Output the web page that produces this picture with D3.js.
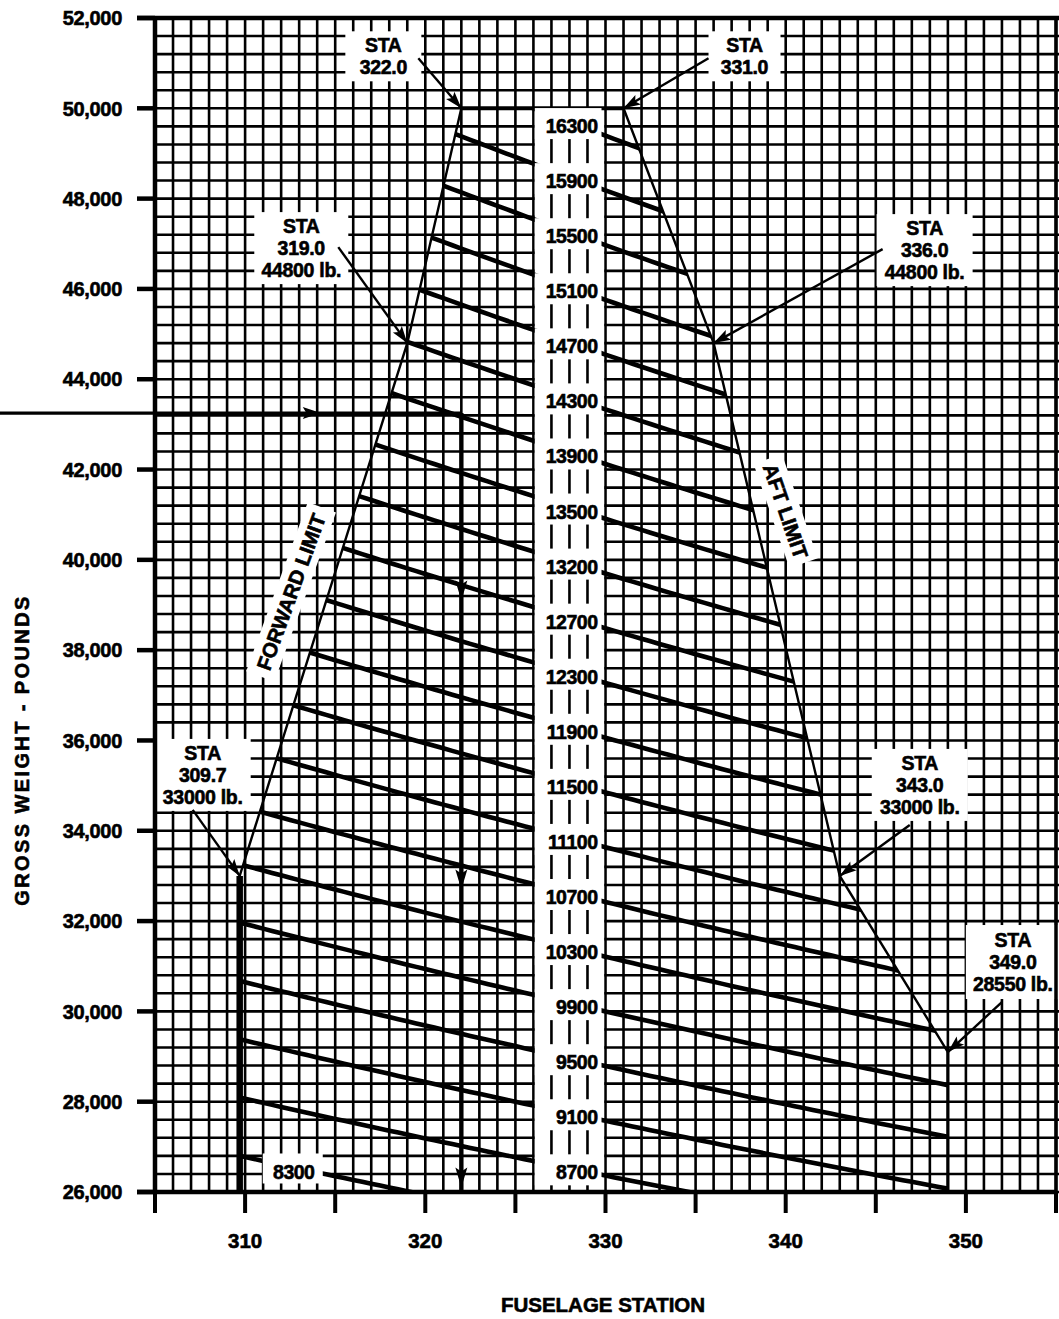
<!DOCTYPE html>
<html>
<head>
<meta charset="utf-8">
<script src="https://cdn.jsdelivr.net/npm/d3@7/dist/d3.min.js"></script>
<style>
  body { margin: 0; background: #fff; }
  svg text { font-family: "Liberation Sans", Arial, Helvetica, sans-serif; font-weight: bold; fill: #000; stroke: #000; stroke-width: 0.6px; }
</style>
</head>
<body>
<div id="chart"></div>
<script>
// axis ticks
const stationTicks = [310, 320, 330, 340, 350];
const stationMinor = [305, 310, 315, 320, 325, 330, 335, 340, 345, 350, 355];
const weightTicks = [26000, 28000, 30000, 32000, 34000, 36000, 38000, 40000, 42000, 44000, 46000, 48000, 50000, 52000];

// CG envelope (station, lb) as drawn
const envStations = [309.7, 309.7, 319.0, 322.0, 331.0, 336.0, 343.0, 349.0, 349.0];
const envWeights  = [26000, 33000, 44800, 50000, 50000, 44800, 33000, 29100, 26000];

// constant moment lines (lb-in / 1000) and their printed labels
const moments = [8300, 8700, 9100, 9500, 9900, 10300, 10700, 11100, 11500, 11900, 12300,
                 12700, 13100, 13500, 13900, 14300, 14700, 15100, 15500, 15900, 16300];
const momentLabels = ["8300", "8700", "9100", "9500", "9900", "10300", "10700", "11100", "11500", "11900", "12300",
                      "12700", "13200", "13500", "13900", "14300", "14700", "15100", "15500", "15900", "16300"];

// station callouts
const calloutText = [
  ["STA", "322.0"], ["STA", "331.0"],
  ["STA", "319.0", "44800 lb."], ["STA", "336.0", "44800 lb."],
  ["STA", "309.7", "33000 lb."], ["STA", "343.0", "33000 lb."],
  ["STA", "349.0", "28550 lb."]
];
const calloutStation = [322.0, 331.0, 319.0, 336.0, 309.7, 343.0, 349.0];
const calloutWeight  = [50000, 50000, 44800, 44800, 33000, 33000, 29100];

// sample problem
const sampleWeight = 43250;
const sampleStation = 322;
const sampleArrowWeights = [39100, 32700, 26100];

// layout
const W = 1059, H = 1319;
const x = d3.scaleLinear().domain([305, 355]).range([155, 1056]);
const y = d3.scaleLinear().domain([26000, 52000]).range([1192, 18]);

const svg = d3.select("#chart").append("svg")
  .attr("width", W)
  .attr("height", H);

// grid
const grid = svg.append("g").attr("stroke", "#000").attr("stroke-width", 2.6);
grid.selectAll("line.v")
  .data(d3.range(305, 356, 1))
  .enter().append("line")
  .attr("x1", d => x(d)).attr("x2", d => x(d))
  .attr("y1", y(52000)).attr("y2", y(26000));
grid.selectAll("line.h")
  .data(d3.range(26000, 52001, 400))
  .enter().append("line")
  .attr("x1", x(305)).attr("x2", W)
  .attr("y1", d => y(d)).attr("y2", d => y(d));

// white column for moment labels (no horizontal grid inside)
svg.append("rect")
  .attr("x", x(326) + 1.4).attr("width", x(330) - x(326) - 2.8)
  .attr("y", y(50000) + 2).attr("height", y(26000) - y(50000) - 4)
  .attr("fill", "#fff");
svg.append("g").attr("stroke", "#000").attr("stroke-width", 2.6)
  .selectAll("line")
  .data([327, 328, 329])
  .enter().append("line")
  .attr("x1", d => x(d)).attr("x2", d => x(d))
  .attr("y1", y(50000)).attr("y2", y(26000));

// envelope clip
const envPts = envStations.map((s, i) => [x(s), y(envWeights[i])]);
svg.append("clipPath").attr("id", "env")
  .append("polygon")
  .attr("points", envPts.map(p => p.join(",")).join(" "));

// constant moment lines
const momentLine = d3.line()
  .x(d => x(d[0]))
  .y(d => y(d[1]));
svg.append("g")
  .attr("clip-path", "url(#env)")
  .selectAll("path")
  .data(moments)
  .enter().append("path")
  .attr("d", m => momentLine(d3.range(305, 355.5, 0.5).map(s => [s, m * 1000 / s])))
  .attr("fill", "none")
  .attr("stroke", "#000")
  .attr("stroke-width", 4.6);

// envelope outline
svg.append("path")
  .attr("d", d3.line()(envPts.slice(1, 8)))
  .attr("fill", "none")
  .attr("stroke", "#000")
  .attr("stroke-width", 2.4);
svg.append("line")
  .attr("x1", x(322)).attr("x2", x(331))
  .attr("y1", y(50000)).attr("y2", y(50000))
  .attr("stroke", "#000").attr("stroke-width", 4);
svg.append("line")
  .attr("x1", x(309.7)).attr("x2", x(309.7))
  .attr("y1", y(33000)).attr("y2", y(26000))
  .attr("stroke", "#000").attr("stroke-width", 6.5);
svg.append("line")
  .attr("x1", x(349)).attr("x2", x(349))
  .attr("y1", y(29100)).attr("y2", y(26000))
  .attr("stroke", "#000").attr("stroke-width", 3);

// moment labels
const labelSta = m => m < 8500 ? 312.7 : 328.0;
const labels = svg.append("g");
moments.forEach((m, i) => {
  const s = labelSta(m);
  const cy = y(m * 1000 / s) + 4;
  const narrow = m < 8500;
  const bx0 = narrow ? x(s) - 31 : x(326) + 1.4;
  const bx1 = narrow ? x(s) + 29 : x(330) - 4;
  labels.append("rect")
    .attr("x", bx0).attr("width", bx1 - bx0)
    .attr("y", cy - 18).attr("height", narrow ? 30 : 31)
    .attr("fill", "#fff");
  labels.append("text")
    .attr("x", narrow ? x(s) : x(330) - 8)
    .attr("y", cy)
    .attr("dy", "0.36em")
    .attr("text-anchor", narrow ? "middle" : "end")
    .style("font-size", "19.5px")
    .style("letter-spacing", "-0.5px")
    .text(momentLabels[i]);
});

// arrow helper
function arrowHead(g, tx, ty, angle, len, half) {
  g.append("path")
    .attr("d", `M0,0 L${-len},${-half} L${-len * 0.8},0 L${-len},${half} Z`)
    .attr("transform", `translate(${tx},${ty}) rotate(${angle})`)
    .attr("fill", "#000");
}

// sample problem lines
const sample = svg.append("g");
sample.append("line")
  .attr("x1", 0).attr("x2", x(sampleStation))
  .attr("y1", y(sampleWeight)).attr("y2", y(sampleWeight))
  .attr("stroke", "#000").attr("stroke-width", 3.2);
arrowHead(sample, x(314.2), y(sampleWeight), 0, 18, 6);
sample.append("line")
  .attr("x1", x(sampleStation)).attr("x2", x(sampleStation))
  .attr("y1", y(sampleWeight)).attr("y2", y(26000))
  .attr("stroke", "#000").attr("stroke-width", 4.4);
sampleArrowWeights.forEach(w => arrowHead(sample, x(sampleStation), y(w), 90, 20, 6));

// callouts (box offset, arrow start offset, box size in px)
const calloutLayout = [
  { bx: -78, by: -52, ax: -43, ay: -50, w: 76, h: 50 },
  { bx: 121, by: -52, ax: 85, ay: -50, w: 72, h: 50 },
  { bx: -106, by: -95, ax: -69, ay: -96, w: 94, h: 72 },
  { bx: 211, by: -93, ax: 169, ay: -94, w: 96, h: 72 },
  { bx: -37, by: -101, ax: -47, ay: -66, w: 96, h: 72 },
  { bx: 80, by: -91, ax: 70, ay: -51, w: 96, h: 72 },
  { bx: 65, by: -90, ax: 54, ay: -50, w: 94, h: 74 }
];
const callouts = svg.append("g");
calloutText.forEach((lines, i) => {
  const vx = x(calloutStation[i]), vy = y(calloutWeight[i]);
  const L = calloutLayout[i];
  const cx = vx + L.bx, cy = vy + L.by;
  callouts.append("rect")
    .attr("x", cx - L.w / 2).attr("y", cy - L.h / 2)
    .attr("width", L.w).attr("height", L.h)
    .attr("fill", "#fff");
  lines.forEach((t, j) => {
    callouts.append("text")
      .attr("x", cx).attr("y", cy + (j - (lines.length - 1) / 2) * 22)
      .attr("dy", "0.36em")
      .attr("text-anchor", "middle")
      .style("font-size", "19.5px")
      .style("letter-spacing", "-0.3px")
      .text(t);
  });
  const sx = vx + L.ax, sy = vy + L.ay;
  callouts.append("line")
    .attr("x1", sx).attr("y1", sy).attr("x2", vx).attr("y2", vy)
    .attr("stroke", "#000").attr("stroke-width", 2.4);
  const ang = Math.atan2(vy - sy, vx - sx) * 180 / Math.PI;
  arrowHead(callouts, vx, vy, ang, 17, 5.5);
});

// limit labels
function limitLabel(text, s, w, angle, len) {
  const g = svg.append("g").attr("transform", `translate(${x(s)},${y(w)}) rotate(${angle})`);
  g.append("rect")
    .attr("x", -len / 2 - 6).attr("y", -15)
    .attr("width", len + 12).attr("height", 30)
    .attr("fill", "#fff");
  g.append("text")
    .attr("text-anchor", "middle")
    .attr("dy", "0.36em")
    .style("font-size", "20.5px")
    .text(text);
}
limitLabel("FORWARD LIMIT", 312.55, 39290, -70, 168);
limitLabel("AFT LIMIT", 340.0, 41080, 71, 98);

// axes
const axis = svg.append("g").attr("stroke", "#000");
axis.append("line")
  .attr("x1", x(305)).attr("x2", x(305))
  .attr("y1", y(52000)).attr("y2", y(26000))
  .attr("stroke-width", 4.5);
axis.append("line")
  .attr("x1", x(305) - 18).attr("x2", W)
  .attr("y1", y(52000)).attr("y2", y(52000))
  .attr("stroke-width", 4.5);
axis.append("line")
  .attr("x1", x(305) - 18).attr("x2", x(355))
  .attr("y1", y(26000)).attr("y2", y(26000))
  .attr("stroke-width", 4.5);
axis.append("line")
  .attr("x1", x(355)).attr("x2", x(355))
  .attr("y1", y(52000)).attr("y2", y(26000))
  .attr("stroke-width", 3.5);
axis.selectAll("line.wt")
  .data(weightTicks)
  .enter().append("line")
  .attr("x1", x(305) - 18).attr("x2", x(305))
  .attr("y1", d => y(d)).attr("y2", d => y(d))
  .attr("stroke-width", 4.5);
axis.selectAll("line.st")
  .data(stationMinor)
  .enter().append("line")
  .attr("x1", d => x(d)).attr("x2", d => x(d))
  .attr("y1", y(26000)).attr("y2", y(26000) + 21)
  .attr("stroke-width", 4);

svg.append("g").selectAll("text")
  .data(weightTicks)
  .enter().append("text")
  .attr("x", x(305) - 33)
  .attr("y", d => y(d))
  .attr("dy", "0.36em")
  .attr("text-anchor", "end")
  .style("font-size", "20px")
  .style("letter-spacing", "-0.3px")
  .text(d => d3.format(",")(d));

svg.append("g").selectAll("text")
  .data(stationTicks)
  .enter().append("text")
  .attr("x", d => x(d))
  .attr("y", 1241)
  .attr("dy", "0.36em")
  .attr("text-anchor", "middle")
  .style("font-size", "20.5px")
  .text(d => d);

// axis titles
svg.append("text")
  .attr("x", 603).attr("y", 1305)
  .attr("dy", "0.36em")
  .attr("text-anchor", "middle")
  .style("font-size", "20.5px")
  .text("FUSELAGE STATION");

svg.append("text")
  .attr("transform", "translate(22,750) rotate(-90)")
  .attr("dy", "0.36em")
  .attr("text-anchor", "middle")
  .style("font-size", "20px")
  .style("letter-spacing", "2.4px")
  .text("GROSS WEIGHT - POUNDS");
</script>
</body>
</html>
